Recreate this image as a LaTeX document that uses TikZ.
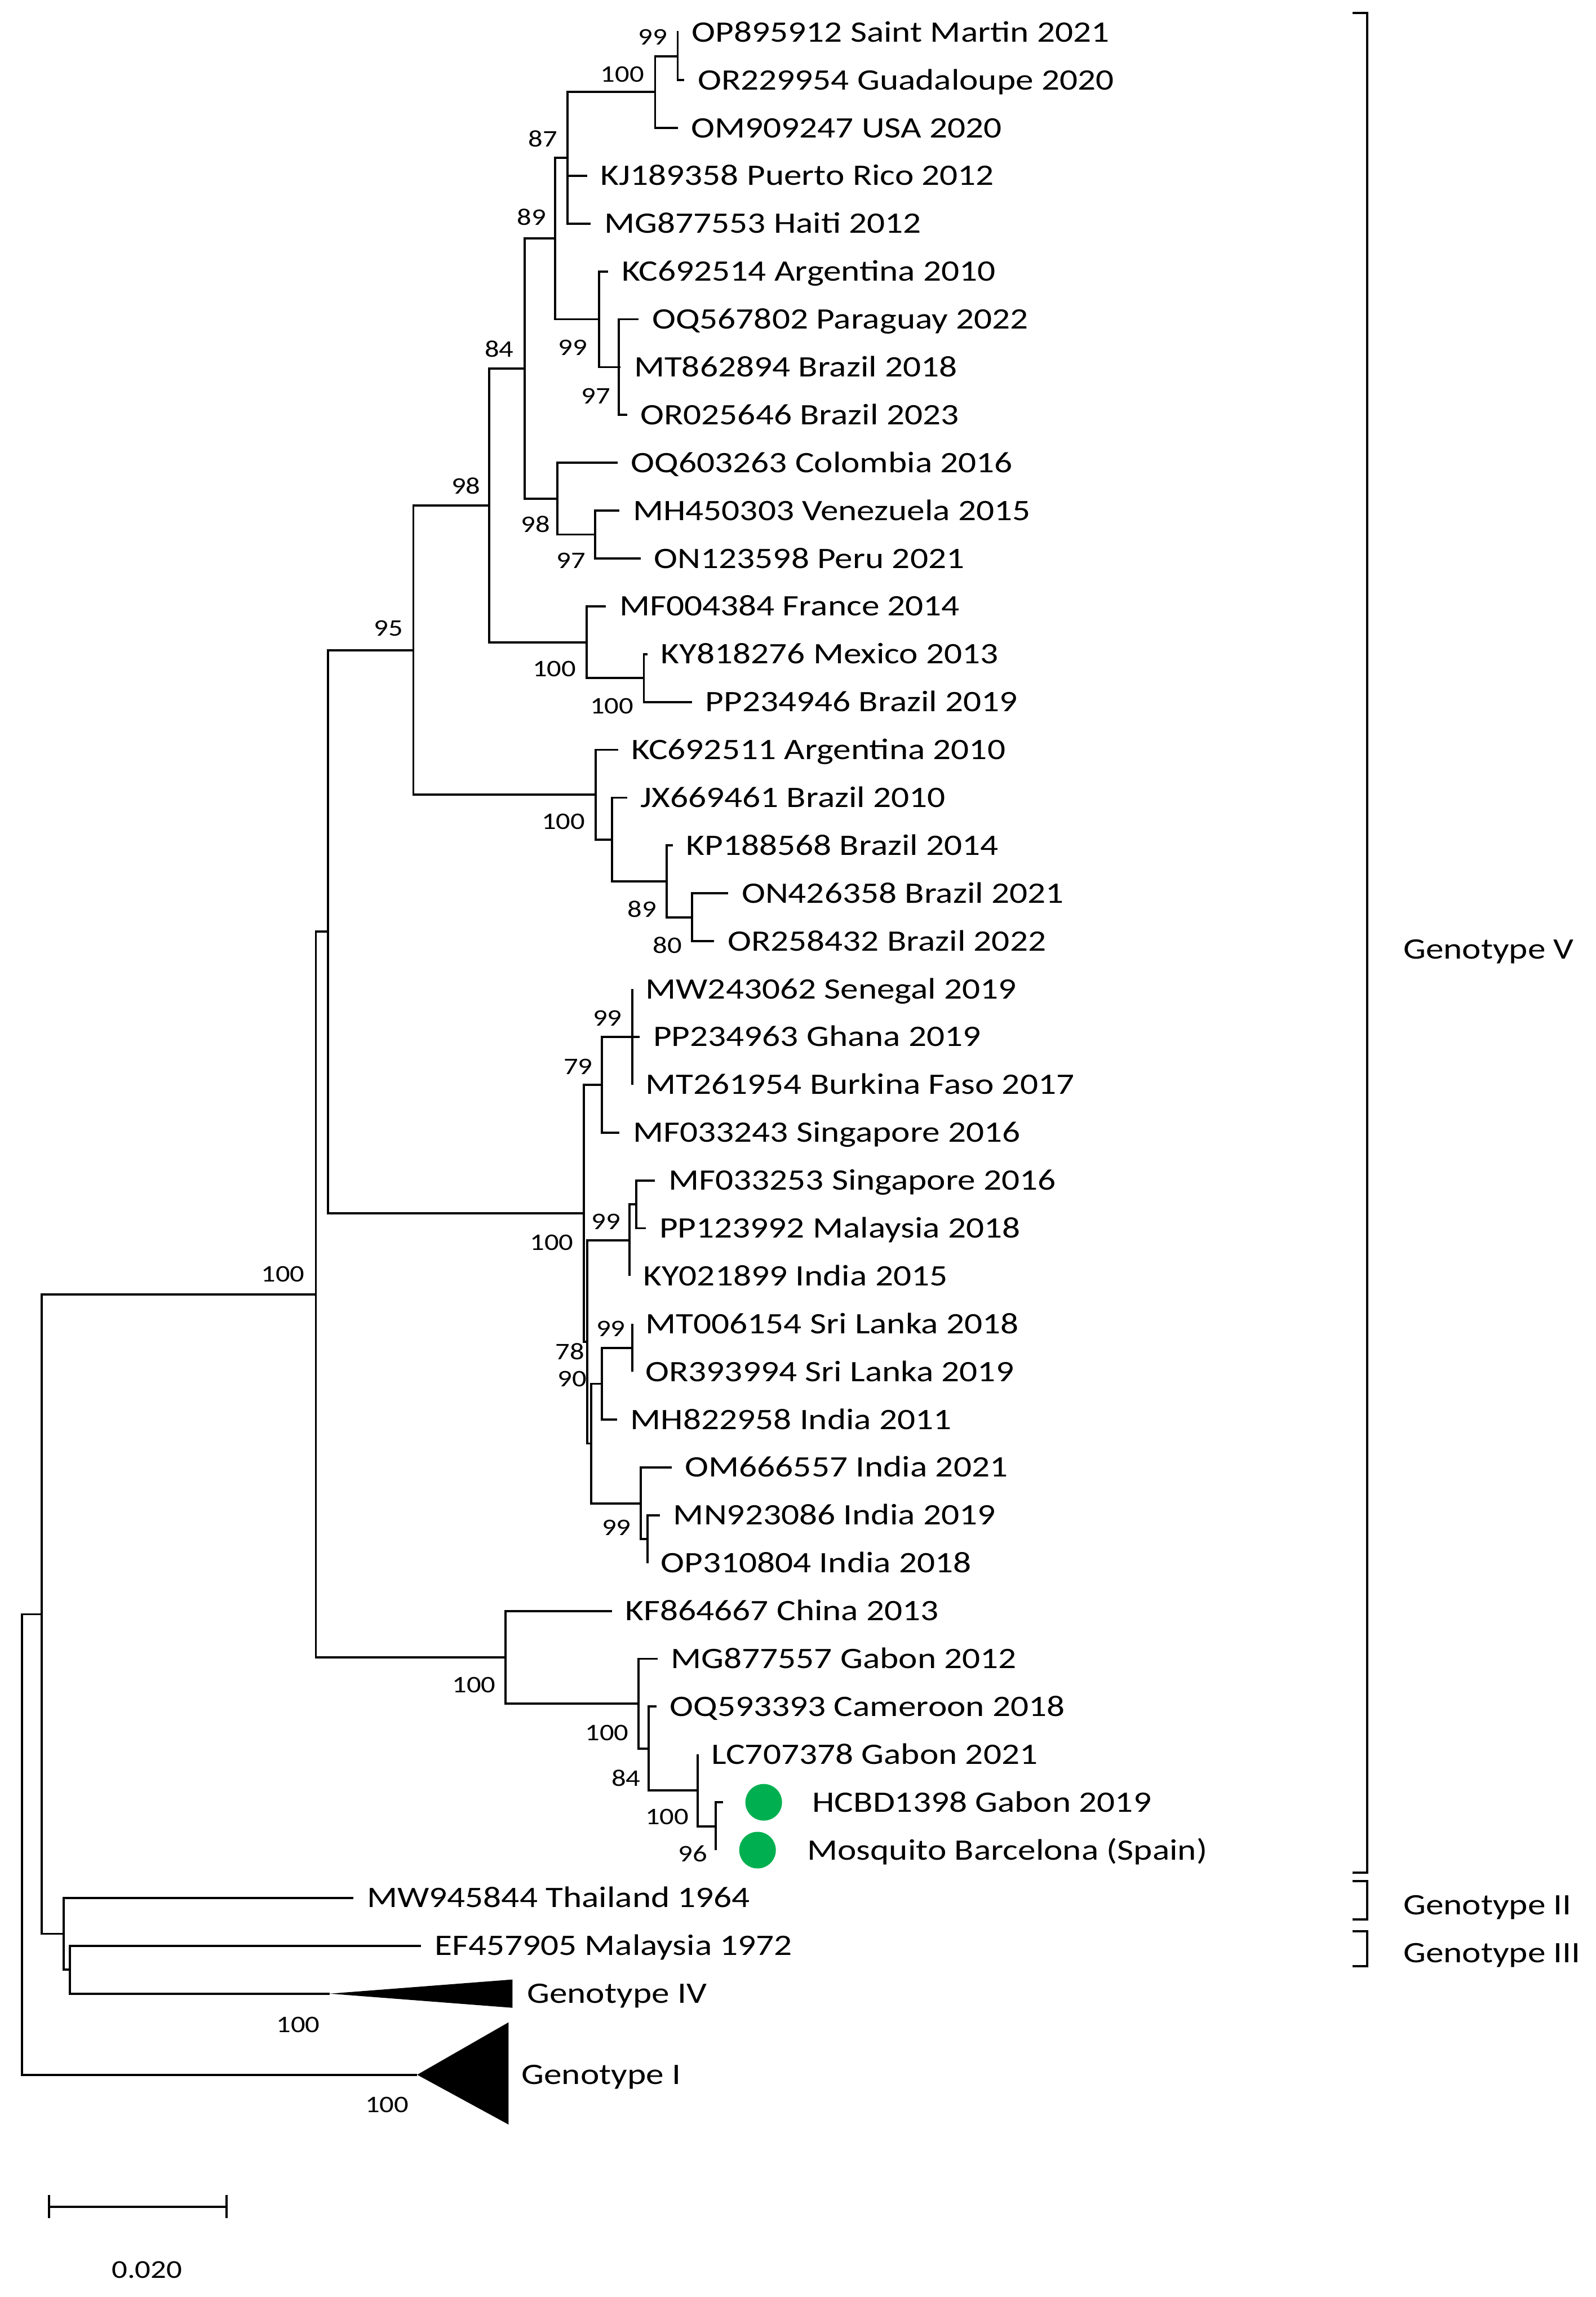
\documentclass[tikz,border=0pt]{standalone}
\usepackage{fontspec}
\setmainfont{Carlito}[FakeStretch=1.2]
\usetikzlibrary{positioning}
\definecolor{dotgreen}{HTML}{00B050}

\begin{document}
\begin{tikzpicture}[x=0.026cm,y=-0.026cm,line width=1.1pt,
  tax/.style={anchor=west,inner xsep=0.22cm,inner ysep=0pt,text height=9.7pt,text depth=0pt,font=\fontsize{15}{18}\selectfont},
  bs/.style={inner sep=0pt,text height=7.6pt,text depth=0pt,font=\fontsize{12}{14}\selectfont},
  gdot/.style={circle,fill=dotgreen,inner sep=0pt,minimum size=0.65cm}]
\useasboundingbox (0,0) rectangle (1089.2,1567.7);

% internal nodes
\coordinate (n99a)  at (462.5,38.3);
\coordinate (n100a) at (447.1,62.8);
\coordinate (n87)   at (387.2,107.7);
\coordinate (n97a)  at (422.4,250.55);
\coordinate (n99b)  at (408.7,217.9);
\coordinate (n89)   at (378.9,162.8);
\coordinate (n97b)  at (406.2,364.8);
\coordinate (n98a)  at (380.5,340.3);
\coordinate (n84)   at (358.0,251.6);
\coordinate (n100b) at (439.4,462.8);
\coordinate (n100c) at (400.4,438.3);
\coordinate (n98b)  at (334.0,345.0);
\coordinate (n80)   at (472.2,626.0);
\coordinate (n89b)  at (454.9,601.5);
\coordinate (njx)   at (417.6,573.0);
\coordinate (n100d) at (406.6,542.4);
\coordinate (n95)   at (282.1,443.7);
\coordinate (n99c)  at (431.4,707.65);
\coordinate (n79)   at (410.7,740.3);
\coordinate (nmf)   at (434.2,821.9);
\coordinate (n99d)  at (429.7,846.4);
\coordinate (n99e)  at (431.4,919.9);
\coordinate (n90)   at (410.7,944.4);
\coordinate (n99f)  at (441.8,1050.5);
\coordinate (nom)   at (437.3,1026.0);
\coordinate (nA)    at (403.5,985.2);
\coordinate (n78)   at (400.6,915.8);
\coordinate (n100e) at (398.6,828.1);
\coordinate (nbig)  at (223.8,635.9);
\coordinate (n96)   at (488.4,1246.4);
\coordinate (n100f) at (476.3,1221.9);
\coordinate (n84b)  at (442.8,1193.3);
\coordinate (n100g) at (435.6,1162.7);
\coordinate (n100h) at (345.1,1131.1);
\coordinate (nV)    at (215.6,883.5);
\coordinate (nIII)  at (47.7,1344.3);
\coordinate (nII)   at (43.4,1319.8);
\coordinate (nVII)  at (28.5,1101.7);
\coordinate (root)  at (15.0,1258.8);

% taxa
\node[tax] (OP895912) at (463.0,22.00)   {OP895912 Saint Martin 2021};
\node[tax] (OR229954) at (467.0,54.65)   {OR229954 Guadaloupe 2020};
\node[tax] (OM909247) at (462.5,87.30)   {OM909247 USA 2020};
\node[tax] (KJ189358) at (400.6,119.95)  {KJ189358 Puerto Rico 2012};
\node[tax] (MG877553) at (403.2,152.60)  {MG877553 Haiti 2012};
\node[tax] (KC692514) at (415.1,185.25)  {KC692514 Argentina 2010};
\node[tax] (OQ567802) at (435.9,217.90)  {OQ567802 Paraguay 2022};
\node[tax] (MT862894) at (423.5,250.55)  {MT862894 Brazil 2018};
\node[tax] (OR025646) at (427.9,283.20)  {OR025646 Brazil 2023};
\node[tax] (OQ603263) at (421.5,315.85)  {OQ603263 Colombia 2016};
\node[tax] (MH450303) at (422.8,348.50)  {MH450303 Venezuela 2015};
\node[tax] (ON123598) at (437.3,381.15)  {ON123598 Peru 2021};
\node[tax] (MF004384) at (413.5,413.80)  {MF004384 France 2014};
\node[tax] (KY818276) at (441.8,446.45)  {KY818276 Mexico 2013};
\node[tax] (PP234946) at (472.2,479.10)  {PP234946 Brazil 2019};
\node[tax] (KC692511) at (421.8,511.75)  {KC692511 Argentina 2010};
\node[tax] (JX669461) at (428.0,544.40)  {JX669461 Brazil 2010};
\node[tax] (KP188568) at (459.1,577.05)  {KP188568 Brazil 2014};
\node[tax] (ON426358) at (497.0,609.70)  {ON426358 Brazil 2021};
\node[tax] (OR258432) at (487.4,642.35)  {OR258432 Brazil 2022};
\node[tax] (MW243062) at (431.4,675.00)  {MW243062 Senegal 2019};
\node[tax] (PP234963) at (436.6,707.65)  {PP234963 Ghana 2019};
\node[tax] (MT261954) at (431.4,740.30)  {MT261954 Burkina Faso 2017};
\node[tax] (MF033243) at (422.8,772.95)  {MF033243 Singapore 2016};
\node[tax] (MF033253) at (447.0,805.60)  {MF033253 Singapore 2016};
\node[tax] (PP123992) at (440.8,838.25)  {PP123992 Malaysia 2018};
\node[tax] (KY021899) at (429.7,870.90)  {KY021899 India 2015};
\node[tax] (MT006154) at (431.4,903.55)  {MT006154 Sri Lanka 2018};
\node[tax] (OR393994) at (431.4,936.20)  {OR393994 Sri Lanka 2019};
\node[tax] (MH822958) at (421.1,968.85)  {MH822958 India 2011};
\node[tax] (OM666557) at (458.4,1001.50) {OM666557 India 2021};
\node[tax] (MN923086) at (450.4,1034.15) {MN923086 India 2019};
\node[tax] (OP310804) at (441.8,1066.80) {OP310804 India 2018};
\node[tax] (KF864667) at (417.6,1099.45) {KF864667 China 2013};
\node[tax] (MG877557) at (448.7,1132.10) {MG877557 Gabon 2012};
\node[tax] (OQ593393) at (448.0,1164.75) {OQ593393 Cameroon 2018};
\node[tax] (LC707378) at (476.3,1197.40) {LC707378 Gabon 2021};
\coordinate (HCBD1398) at (493.6,1230.05);
\coordinate (mosq)     at (488.4,1262.70);
\node[gdot] (dotH) at (521.2,1230.05) {};
\node[gdot] (dotM) at (517.0,1262.70) {};
\node[tax,right=0.28cm of dotH] (HCBDlab) {HCBD1398 Gabon 2019};
\node[tax,right=0.30cm of dotM] (mosqlab) {Mosquito Barcelona (Spain)};
\node[tax] (MW945844) at (241.3,1295.35) {MW945844 Thailand 1964};
\node[tax] (EF457905) at (287.4,1328.00) {EF457905 Malaysia 1972};
\coordinate (gIV) at (225.1,1360.65);
\coordinate (gI)  at (284.7,1416.0);
\fill (gIV) -- (349.8,1351.0) -- (349.8,1370.3) -- cycle;
\fill (gI) -- (347.1,1380.2) -- (347.1,1450.0) -- cycle;
\node[tax,inner xsep=0pt] (gIVlab) at (359.0,1360.65) {Genotype IV};
\node[tax,inner xsep=0pt] (gIlab)  at (355.2,1416.0)  {Genotype I};

% branches
\draw (n99a) |- (OP895912) (n99a) |- (OR229954);
\draw (n100a) |- (n99a) (n100a) |- (OM909247);
\draw (n87) |- (n100a) (n87) |- (KJ189358) (n87) |- (MG877553);
\draw (n97a) |- (OQ567802) (n97a) |- (MT862894) (n97a) |- (OR025646);
\draw (n99b) |- (KC692514) (n99b) |- (n97a);
\draw (n89) |- (n87) (n89) |- (n99b);
\draw (n97b) |- (MH450303) (n97b) |- (ON123598);
\draw (n98a) |- (OQ603263) (n98a) |- (n97b);
\draw (n84) |- (n89) (n84) |- (n98a);
\draw (n100b) |- (KY818276) (n100b) |- (PP234946);
\draw (n100c) |- (MF004384) (n100c) |- (n100b);
\draw (n98b) |- (n84) (n98b) |- (n100c);
\draw (n80) |- (ON426358) (n80) |- (OR258432);
\draw (n89b) |- (KP188568) (n89b) |- (n80);
\draw (njx) |- (JX669461) (njx) |- (n89b);
\draw (n100d) |- (KC692511) (n100d) |- (njx);
\draw (n95) |- (n98b) (n95) |- (n100d);
\draw (n99c) |- (MW243062) (n99c) |- (PP234963) (n99c) |- (MT261954);
\draw (n79) |- (n99c) (n79) |- (MF033243);
\draw (nmf) |- (MF033253) (nmf) |- (PP123992);
\draw (n99d) |- (nmf) (n99d) |- (KY021899);
\draw (n99e) |- (MT006154) (n99e) |- (OR393994);
\draw (n90) |- (n99e) (n90) |- (MH822958);
\draw (n99f) |- (MN923086) (n99f) |- (OP310804);
\draw (nom) |- (OM666557) (nom) |- (n99f);
\draw (nA) |- (n90) (nA) |- (nom);
\draw (n78) |- (n99d) (n78) |- (nA);
\draw (n100e) |- (n79) (n100e) |- (n78);
\draw (nbig) |- (n95) (nbig) |- (n100e);
\draw (n96) |- (HCBD1398) (n96) |- (mosq);
\draw (n100f) |- (LC707378) (n100f) |- (n96);
\draw (n84b) |- (OQ593393) (n84b) |- (n100f);
\draw (n100g) |- (MG877557) (n100g) |- (n84b);
\draw (n100h) |- (KF864667) (n100h) |- (n100g);
\draw (nV) |- (nbig) (nV) |- (n100h);
\draw (nIII) |- (EF457905) (nIII) |- (gIV);
\draw (nII) |- (MW945844) (nII) |- (nIII);
\draw (nVII) |- (nV) (nVII) |- (nII);
\draw (root) |- (nVII) (root) |- (gI);

% bootstrap values
\node[bs] (b1)  at (445.5,25.5)   {99};
\node[bs] (b2)  at (424.7,51.0)   {100};
\node[bs] (b3)  at (370.5,94.9)   {87};
\node[bs] (b4)  at (362.8,148.6)  {89};
\node[bs] (b5)  at (340.7,238.4)  {84};
\node[bs] (b6)  at (391.0,237.3)  {99};
\node[bs] (b7)  at (406.7,270.5)  {97};
\node[bs] (b8)  at (318.0,332.0)  {98};
\node[bs] (b9)  at (365.5,358.0)  {98};
\node[bs] (b10) at (389.7,382.8)  {97};
\node[bs] (b11) at (265.0,429.0)  {95};
\node[bs] (b12) at (378.3,456.7)  {100};
\node[bs] (b13) at (417.6,481.8)  {100};
\node[bs] (b14) at (384.5,561.0)  {100};
\node[bs] (b15) at (438.3,621.0)  {89};
\node[bs] (b16) at (455.6,645.4)  {80};
\node[bs] (b17) at (414.5,694.9)  {99};
\node[bs] (b18) at (394.5,728.1)  {79};
\node[bs] (b19) at (413.5,834.0)  {99};
\node[bs] (b20) at (376.5,848.0)  {100};
\node[bs] (b21) at (416.9,906.8)  {99};
\node[bs] (b22) at (389.0,922.8)  {78};
\node[bs] (b23) at (390.4,941.2)  {90};
\node[bs] (b24) at (420.7,1042.9) {99};
\node[bs] (b25) at (193.1,869.8)  {100};
\node[bs] (b26) at (323.4,1149.9) {100};
\node[bs] (b27) at (414.2,1182.8) {100};
\node[bs] (b28) at (427.3,1213.8) {84};
\node[bs] (b29) at (455.3,1240.0) {100};
\node[bs] (b30) at (472.9,1265.3) {96};
\node[bs] (b31) at (203.4,1382.1) {100};
\node[bs] (b32) at (264.1,1436.6) {100};

% genotype brackets
\draw (923,9) -- (933,9) -- (933,1278) -- (923,1278);
\draw (923,1284) -- (933,1284) -- (933,1310) -- (923,1310);
\draw (923,1318) -- (933,1318) -- (933,1342) -- (923,1342);
\node[tax,inner xsep=0pt] (gV)   at (957,647.7) {Genotype V};
\node[tax,inner xsep=0pt] (gII)  at (957,1300)  {Genotype II};
\node[tax,inner xsep=0pt] (gIII) at (957,1333)  {Genotype III};

% scale bar
\draw (33.6,1498) -- (33.6,1514) (33.6,1506) -- (154.6,1506) (154.6,1498) -- (154.6,1514);
\node[bs,font=\fontsize{13}{15}\selectfont] (scale) at (100.3,1549.5) {0.020};
\end{tikzpicture}
\end{document}
